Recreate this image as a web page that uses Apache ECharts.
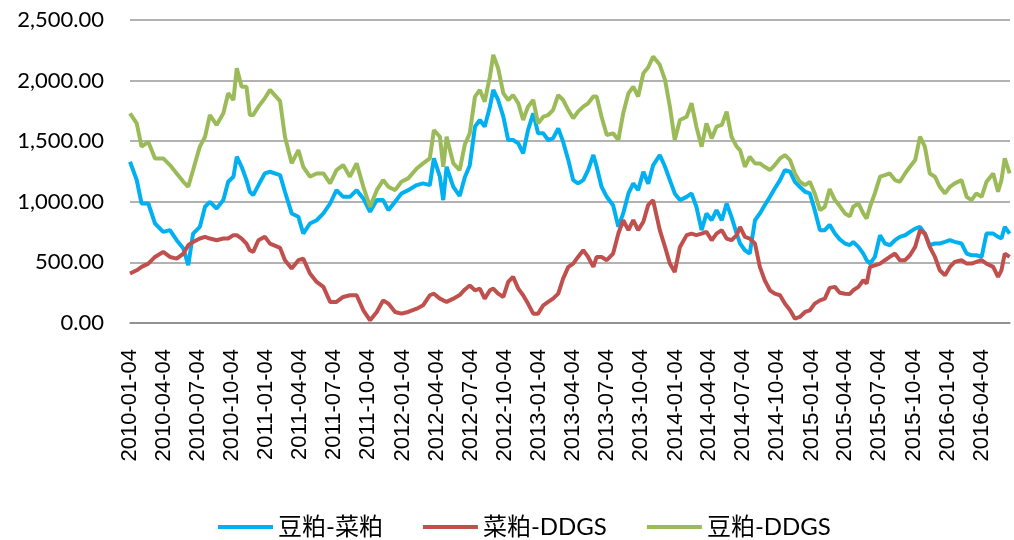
<!doctype html>
<html lang="zh-CN">
  <head>
    <meta charset="UTF-8" />
    <title>豆粕-菜粕 / 菜粕-DDGS / 豆粕-DDGS 价差</title>
    <script src="https://cdn.jsdelivr.net/npm/echarts@6/dist/echarts.min.js"></script>
    <style>
      html,
      body {
        margin: 0;
        padding: 0;
        background: #fff;
      }
      #main {
        width: 1014px;
        height: 540px;
      }
    </style>
  </head>
  <body>
    <div id="main"></div>

    <script>
      // 采样日期
      const dates = [
        "2010-01-04", "2010-01-22", "2010-02-04", "2010-02-22", "2010-03-12", "2010-04-03",
        "2010-04-21", "2010-05-09", "2010-05-27", "2010-06-09", "2010-06-22", "2010-07-10",
        "2010-07-24", "2010-08-06", "2010-08-24", "2010-09-11", "2010-09-24", "2010-10-08",
        "2010-10-17", "2010-10-30", "2010-11-12", "2010-11-21", "2010-11-30", "2010-12-14",
        "2010-12-31", "2011-01-14", "2011-02-10", "2011-02-23", "2011-03-13", "2011-03-31",
        "2011-04-13", "2011-05-01", "2011-05-19", "2011-06-06", "2011-06-24", "2011-07-11",
        "2011-07-29", "2011-08-16", "2011-09-03", "2011-09-21", "2011-10-09", "2011-10-27",
        "2011-11-13", "2011-11-27", "2011-12-15", "2012-01-01", "2012-01-19", "2012-02-11",
        "2012-02-28", "2012-03-17", "2012-03-28", "2012-04-13", "2012-04-22", "2012-05-01",
        "2012-05-19", "2012-06-05", "2012-06-19", "2012-07-02", "2012-07-16", "2012-07-29",
        "2012-08-11", "2012-08-25", "2012-09-03", "2012-09-16", "2012-09-30", "2012-10-13",
        "2012-10-26", "2012-11-09", "2012-11-22", "2012-12-05", "2012-12-19", "2013-01-01",
        "2013-01-15", "2013-01-28", "2013-02-10", "2013-02-24", "2013-03-09", "2013-03-23",
        "2013-04-05", "2013-04-18", "2013-05-02", "2013-05-15", "2013-05-29", "2013-06-07",
        "2013-06-20", "2013-07-04", "2013-07-21", "2013-08-04", "2013-08-17", "2013-08-31",
        "2013-09-13", "2013-09-26", "2013-10-10", "2013-10-23", "2013-11-05", "2013-11-23",
        "2013-12-07", "2013-12-20", "2014-01-02", "2014-01-16", "2014-02-03", "2014-02-16",
        "2014-03-01", "2014-03-15", "2014-03-28", "2014-04-11", "2014-04-24", "2014-05-08",
        "2014-05-21", "2014-06-03", "2014-06-17", "2014-06-26", "2014-07-09", "2014-07-22",
        "2014-08-05", "2014-08-18", "2014-08-31", "2014-09-14", "2014-09-27", "2014-10-11",
        "2014-10-24", "2014-11-07", "2014-11-20", "2014-12-03", "2014-12-17", "2014-12-30",
        "2015-01-12", "2015-01-26", "2015-02-08", "2015-02-21", "2015-03-07", "2015-03-20",
        "2015-04-03", "2015-04-16", "2015-04-25", "2015-05-09", "2015-05-22", "2015-05-31",
        "2015-06-09", "2015-06-22", "2015-07-06", "2015-07-19", "2015-08-01", "2015-08-15",
        "2015-08-28", "2015-09-11", "2015-09-24", "2015-10-08", "2015-10-21", "2015-11-03",
        "2015-11-16", "2015-11-30", "2015-12-13", "2015-12-27", "2016-01-09", "2016-01-22",
        "2016-02-09", "2016-02-23", "2016-03-07", "2016-03-20", "2016-04-03", "2016-04-16",
        "2016-05-04", "2016-05-17", "2016-05-26", "2016-06-04", "2016-06-17"
      ];

      // 豆粕-菜粕
      const soyRape = [
        1330, 1180, 986, 986, 821, 752, 766, 683, 614, 477, 738, 793,
        959, 1000, 945, 1014, 1165, 1207, 1372, 1289, 1179, 1083, 1055, 1138,
        1234, 1248, 1220, 1083, 904, 876, 738, 821, 848, 904, 986, 1096,
        1041, 1041, 1096, 1028, 917, 1014, 1014, 931, 1000, 1069, 1096, 1138,
        1152, 1138, 1358, 1207, 1014, 1289, 1124, 1048, 1205, 1300, 1620, 1675,
        1620, 1785, 1923, 1840, 1702, 1510, 1510, 1482, 1399, 1592, 1730, 1565,
        1565, 1510, 1523, 1606, 1496, 1344, 1179, 1152, 1179, 1262, 1386, 1289,
        1124, 1041, 972, 793, 904, 1069, 1152, 1096, 1248, 1150, 1300, 1386,
        1289, 1179, 1069, 1014, 1041, 1069, 959, 766, 904, 848, 931, 848,
        986, 876, 738, 656, 600, 573, 848, 904, 972, 1041, 1110, 1179,
        1262, 1248, 1165, 1124, 1083, 1069, 931, 766, 766, 810, 738, 690,
        656, 642, 669, 628, 573, 518, 490, 545, 724, 656, 642, 683,
        711, 724, 752, 779, 793, 738, 642, 656, 656, 669, 683, 669,
        656, 573, 559, 559, 545, 738, 738, 711, 697, 793, 738
      ];

      // 菜粕-DDGS
      const rapeDdgs = [
        408, 435, 463, 490, 545, 587, 545, 531, 573, 642, 669, 697,
        711, 697, 683, 697, 697, 725, 725, 697, 655, 600, 587, 683,
        711, 655, 620, 518, 449, 518, 531, 408, 339, 298, 174, 174,
        215, 229, 229, 105, 22, 91, 187, 160, 91, 77, 91, 118,
        146, 229, 242, 201, 187, 174, 201, 230, 277, 310, 270, 284,
        201, 270, 284, 242, 215, 339, 380, 284, 229, 160, 77, 77,
        146, 174, 201, 242, 366, 463, 490, 545, 600, 545, 463, 545,
        545, 518, 573, 738, 848, 766, 848, 766, 835, 975, 1014, 766,
        628, 490, 421, 628, 725, 738, 725, 738, 752, 683, 738, 766,
        697, 683, 725, 793, 711, 697, 655, 463, 353, 270, 242, 229,
        160, 105, 36, 50, 91, 105, 160, 187, 201, 290, 298, 250,
        242, 240, 270, 298, 353, 325, 463, 476, 490, 518, 545, 573,
        518, 518, 559, 628, 766, 738, 628, 545, 435, 394, 463, 504,
        518, 490, 490, 504, 518, 490, 463, 380, 435, 573, 545
      ];

      // 豆粕-DDGS
      const soyDdgs = [
        1730, 1647, 1455, 1495, 1358, 1358, 1303, 1234, 1165, 1124, 1262, 1455,
        1537, 1716, 1634, 1730, 1895, 1840, 2102, 1950, 1950, 1716, 1716, 1785,
        1854, 1923, 1830, 1537, 1317, 1427, 1289, 1207, 1234, 1234, 1152, 1262,
        1303, 1207, 1317, 1124, 959, 1096, 1179, 1124, 1096, 1165, 1193, 1275,
        1317, 1358, 1592, 1537, 1289, 1537, 1317, 1262, 1475, 1565, 1868, 1923,
        1826, 2033, 2212, 2102, 1895, 1840, 1881, 1813, 1675, 1785, 1840, 1647,
        1702, 1716, 1757, 1881, 1840, 1757, 1689, 1744, 1785, 1813, 1868, 1868,
        1702, 1551, 1565, 1510, 1730, 1895, 1950, 1868, 2061, 2110, 2198, 2130,
        2006, 1785, 1510, 1675, 1702, 1813, 1620, 1455, 1647, 1523, 1620, 1634,
        1744, 1537, 1455, 1427, 1289, 1372, 1317, 1317, 1289, 1262, 1303, 1358,
        1386, 1344, 1234, 1165, 1138, 1165, 1069, 931, 959, 1105, 1014, 965,
        904, 880, 959, 986, 904, 862, 959, 1069, 1207, 1220, 1234, 1179,
        1165, 1234, 1289, 1344, 1537, 1455, 1234, 1207, 1124, 1069, 1124, 1152,
        1179, 1041, 1014, 1069, 1041, 1165, 1234, 1083, 1179, 1358, 1234
      ];

      // 横轴刻度标签（每季度）
      const tickLabels = [
        "2010-01-04", "2010-04-04", "2010-07-04", "2010-10-04",
        "2011-01-04", "2011-04-04", "2011-07-04", "2011-10-04",
        "2012-01-04", "2012-04-04", "2012-07-04", "2012-10-04",
        "2013-01-04", "2013-04-04", "2013-07-04", "2013-10-04",
        "2014-01-04", "2014-04-04", "2014-07-04", "2014-10-04",
        "2015-01-04", "2015-04-04", "2015-07-04", "2015-10-04",
        "2016-01-04", "2016-04-04"
      ];

      const seriesNames = ["豆粕-菜粕", "菜粕-DDGS", "豆粕-DDGS"];
      const colors = ["#00B0F0", "#C0504D", "#9BBB59"];

      function toTime(s) {
        const p = s.split("-").map(Number);
        return Date.UTC(p[0], p[1] - 1, p[2]);
      }

      const tickTimes = tickLabels.map(toTime);

      // 日期 -> 标签文字
      function labelFor(v) {
        const i = tickTimes.indexOf(v);
        return i >= 0 ? tickLabels[i] : "";
      }

      function pairs(values) {
        return dates.map(function (d, i) {
          return [toTime(d), values[i]];
        });
      }

      const chart = echarts.init(document.getElementById("main"));

      const option = {
        animation: false,
        color: colors,
        grid: {
          left: 130,
          right: 4,
          top: 20,
          bottom: 217,
          containLabel: false,
        },
        legend: {
          data: seriesNames,
          left: 213,
          top: 510,
          icon: "rect",
          itemWidth: 55,
          itemHeight: 4,
          itemGap: 40,
          textStyle: {
            fontFamily: 'Lato, "Noto Sans CJK SC"',
            fontSize: 24,
            color: "#000",
          },
        },
        xAxis: {
          type: "value",
          min: toTime("2010-01-04"),
          max: toTime("2016-06-18"),
          axisLine: {
            show: true,
            onZero: false,
            lineStyle: { color: "#888", width: 1.5 },
          },
          axisTick: {
            show: false,
            customValues: tickTimes,
          },
          axisLabel: {
            customValues: tickTimes,
            rotate: 90,
            margin: 26,
            fontFamily: '"Liberation Sans", Arial, sans-serif',
            fontSize: 22,
            color: "#000",
            hideOverlap: false,
            showMinLabel: true,
            showMaxLabel: true,
            formatter: labelFor,
          },
          splitLine: { show: false },
        },
        yAxis: {
          type: "value",
          min: 0,
          max: 2500,
          interval: 500,
          axisLine: { show: false },
          axisTick: { show: false },
          axisLabel: {
            margin: 26,
            fontFamily: 'Lato, "Liberation Sans", sans-serif',
            fontSize: 22,
            color: "#000",
            formatter: function (v) {
              return v.toLocaleString("en-US", {
                minimumFractionDigits: 2,
                maximumFractionDigits: 2,
              });
            },
          },
          splitLine: {
            lineStyle: { color: "#999", width: 1.5 },
          },
        },
        series: [
          {
            name: seriesNames[0],
            type: "line",
            data: pairs(soyRape),
            symbol: "none",
            lineStyle: { width: 4, color: colors[0] },
          },
          {
            name: seriesNames[1],
            type: "line",
            data: pairs(rapeDdgs),
            symbol: "none",
            lineStyle: { width: 4, color: colors[1] },
          },
          {
            name: seriesNames[2],
            type: "line",
            data: pairs(soyDdgs),
            symbol: "none",
            lineStyle: { width: 4, color: colors[2] },
          },
        ],
      };

      chart.setOption(option);
    </script>
  </body>
</html>
